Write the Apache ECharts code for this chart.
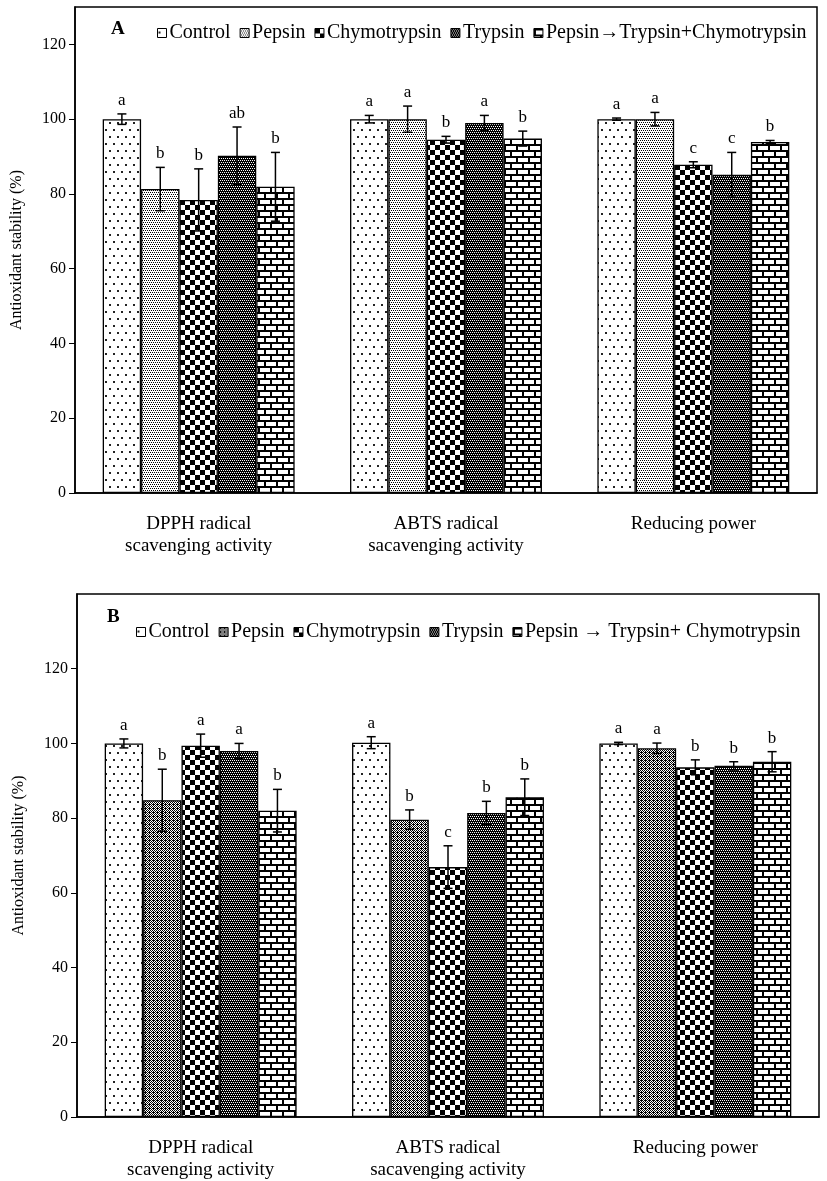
<!DOCTYPE html>
<html><head><meta charset="utf-8">
<script src="https://cdn.jsdelivr.net/npm/echarts@6/dist/echarts.min.js"></script>
<style>html,body{margin:0;padding:0;background:#fff}#c{width:827px;height:1181px}</style>
</head><body><div id="c"></div>
<script>
// ---------- DATA ----------
const categories = ['DPPH radical\nscavenging activity', 'ABTS radical\nsacavenging activity', 'Reducing power'];
const yTicksA = [0, 20, 40, 60, 80, 100, 120];
const yTicksB = [0, 20, 40, 60, 80, 100, 120];
const namesA = ['Control', 'Pepsin', 'Chymotrypsin', 'Trypsin', 'Pepsin→Trypsin+Chymotrypsin'];
const namesB = ['Control', 'Pepsin', 'Chymotrypsin', 'Trypsin', 'Pepsin → Trypsin+ Chymotrypsin'];
const yTitle = 'Antioxidant stability (%)';

// Panel A (order: DPPH, ABTS, Reducing power)
const aControl = [100, 100, 100];
const aControlErr = [1.4, 1.0, 0.3];
const aControlSig = ['a', 'a', 'a'];
const aPepsin = [81.3, 100, 100];
const aPepsinErr = [5.8, 3.5, 1.8];
const aPepsinSig = ['b', 'a', 'a'];
const aChymo = [78.4, 94.5, 87.8];
const aChymoErr = [8.3, 0.9, 0.8];
const aChymoSig = ['b', 'b', 'c'];
const aTrypsin = [90.2, 99.0, 85.1];
const aTrypsinErr = [7.7, 2.0, 6.0];
const aTrypsinSig = ['ab', 'a', 'c'];
const aSeq = [81.9, 94.8, 93.9];
const aSeqErr = [9.2, 2.0, 0.4];
const aSeqSig = ['b', 'b', 'b'];

// Panel B
const bControl = [100, 100.2, 100];
const bControlErr = [1.2, 1.6, 0.3];
const bControlSig = ['a', 'a', 'a'];
const bPepsin = [84.8, 79.6, 98.7];
const bPepsinErr = [8.3, 2.6, 1.4];
const bPepsinSig = ['b', 'b', 'a'];
const bChymo = [99.4, 66.9, 93.6];
const bChymoErr = [3.1, 5.7, 2.0];
const bChymoSig = ['a', 'c', 'b'];
const bTrypsin = [98.0, 81.4, 94.0];
const bTrypsinErr = [2.0, 3.1, 1.1];
const bTrypsinSig = ['a', 'b', 'b'];
const bSeq = [82.0, 85.6, 95.1];
const bSeqErr = [5.7, 4.9, 2.7];
const bSeqSig = ['b', 'b', 'b'];

// ---------- STYLE ----------
const FONT = '"Liberation Serif", "Times New Roman", serif';
const GAP = 0.224;

function pat(w, h, bg, fg, rects) {
  const c = document.createElement('canvas');
  c.width = w; c.height = h;
  const g = c.getContext('2d');
  g.fillStyle = bg; g.fillRect(0, 0, w, h);
  g.fillStyle = fg;
  rects.forEach(r => g.fillRect(r[0], r[1], r[2], r[3]));
  return { image: c, repeat: 'repeat' };
}
const pControl = pat(8, 14, '#fff', '#222', [[1, 3, 2, 2], [5, 10, 2, 2]]);
const pPepsinA = pat(4, 4, '#fff', '#000', [[0, 0, 1, 1], [2, 0, 1, 1], [1, 2, 1, 1], [3, 2, 1, 1]]);
const pPepsinB = pat(4, 4, '#fff', '#000', [[0, 0, 1, 1], [2, 0, 1, 1], [1, 1, 1, 1], [3, 1, 1, 1], [0, 2, 1, 1], [2, 2, 1, 1], [1, 3, 1, 1], [3, 3, 1, 1], [1, 0, 1, 1]]);
const pChymo = pat(10, 10, '#fff', '#000', [[0, 0, 5, 5], [5, 5, 5, 5]]);
const pTrypsin = pat(4, 4, '#000', '#fff', [[0, 0, 1, 1], [2, 0, 1, 1], [1, 2, 1, 1], [3, 2, 1, 1]]);
const pBrick = pat(12, 12, '#fff', '#000', [[0, 0, 12, 2], [0, 6, 12, 2], [0, 2, 2, 4], [6, 8, 2, 4]]);

const panels = [
  { key: '', names: namesA, ticks: yTicksA, max: 130, grid: { left: 75, right: 10, top: 7, height: 486 },
    vals: [aControl, aPepsin, aChymo, aTrypsin, aSeq],
    errs: [aControlErr, aPepsinErr, aChymoErr, aTrypsinErr, aSeqErr],
    sigs: [aControlSig, aPepsinSig, aChymoSig, aTrypsinSig, aSeqSig],
    pats: [pControl, pPepsinA, pChymo, pTrypsin, pBrick],
    legend: { left: 152, top: 18 }, label: { text: 'A', x: 111, y: 31 } },
  { key: 'B-', names: namesB, ticks: yTicksB, max: 140, grid: { left: 77, right: 8, top: 594, height: 524 },
    vals: [bControl, bPepsin, bChymo, bTrypsin, bSeq],
    errs: [bControlErr, bPepsinErr, bChymoErr, bTrypsinErr, bSeqErr],
    sigs: [bControlSig, bPepsinSig, bChymoSig, bTrypsinSig, bSeqSig],
    pats: [pControl, pPepsinB, pChymo, pTrypsin, pBrick],
    legend: { left: 131, top: 617 }, label: { text: 'B', x: 107, y: 619 } }
];

const option = { animation: false, backgroundColor: '#fff', grid: [], xAxis: [], yAxis: [], legend: [], series: [], graphic: [] };

panels.forEach((p, gi) => {
  option.grid.push(Object.assign({ show: true, borderColor: '#000', borderWidth: 1.5, backgroundColor: 'transparent' }, p.grid));
  option.xAxis.push({
    type: 'category', gridIndex: gi, data: categories,
    axisLine: { lineStyle: { color: '#000', width: 1.5 } },
    axisTick: { inside: true, length: 5, alignWithLabel: false, lineStyle: { color: '#000' } },
    axisLabel: { color: '#000', fontFamily: FONT, fontSize: 19, lineHeight: 22, margin: 20, interval: 0 }
  });
  option.yAxis.push({
    type: 'value', gridIndex: gi, min: 0, max: p.max,
    name: yTitle, nameLocation: 'middle', nameGap: 50, nameRotate: 90,
    nameTextStyle: { color: '#000', fontFamily: FONT, fontSize: 16 },
    splitLine: { show: false },
    axisLine: { show: true, lineStyle: { color: '#000', width: 1.5 } },
    axisTick: { show: true, length: 6, customValues: p.ticks, lineStyle: { color: '#000' } },
    axisLabel: { color: '#000', fontFamily: FONT, fontSize: 16, margin: 9, customValues: p.ticks }
  });
  option.legend.push({
    left: p.legend.left, top: p.legend.top, orient: 'horizontal',
    data: p.names.map(n => p.key + n), selectedMode: false,
    icon: 'rect', itemWidth: 9, itemHeight: 9, itemGap: 9,
    itemStyle: { borderColor: '#000', borderWidth: 1 },
    formatter: n => n.replace(/^B-/, ''),
    textStyle: { color: '#000', fontFamily: FONT, fontSize: 20, padding: [0, 0, 0, -2] }
  });
  option.graphic.push({
    type: 'text', left: p.label.x, top: p.label.y - 11,
    style: { text: p.label.text, fill: '#000', font: 'bold 19px ' + FONT }
  });
  p.names.forEach((n, si) => {
    option.series.push({
      type: 'bar', name: p.key + n, xAxisIndex: gi, yAxisIndex: gi,
      data: p.vals[si], barGap: '0%', barCategoryGap: (GAP * 100) + '%',
      itemStyle: { color: p.pats[si], borderColor: '#000', borderWidth: 1.3 }
    });
  });
  p.names.forEach((n, si) => {
    const sigs = p.sigs[si];
    option.series.push({
      type: 'custom', xAxisIndex: gi, yAxisIndex: gi, z: 10, silent: true,
      data: p.vals[si].map((v, i) => [i, v, p.errs[si][i]]),
      renderItem: (params, api) => {
        const i = api.value(0), v = api.value(1), e = api.value(2);
        const band = api.size([1, 0])[0];
        const bw = band * (1 - GAP) / 5;
        const cx = api.coord([i, v])[0] + (si - 2) * bw;
        const yt = api.coord([i, v + e])[1], yb = api.coord([i, v - e])[1];
        const cap = 4.5;
        const ls = { stroke: '#000', lineWidth: 1.5 };
        return { type: 'group', children: [
          { type: 'line', shape: { x1: cx, y1: yt, x2: cx, y2: yb }, style: ls },
          { type: 'line', shape: { x1: cx - cap, y1: yt, x2: cx + cap, y2: yt }, style: ls },
          { type: 'line', shape: { x1: cx - cap, y1: yb, x2: cx + cap, y2: yb }, style: ls },
          { type: 'text', x: cx, y: yt - 5, style: { text: sigs[params.dataIndex], fill: '#000', fontFamily: FONT, fontSize: 17, align: 'center', verticalAlign: 'bottom' } }
        ] };
      }
    });
  });
});

const chart = echarts.init(document.getElementById('c'), null, { renderer: 'canvas' });
chart.setOption(option);
</script></body></html>
